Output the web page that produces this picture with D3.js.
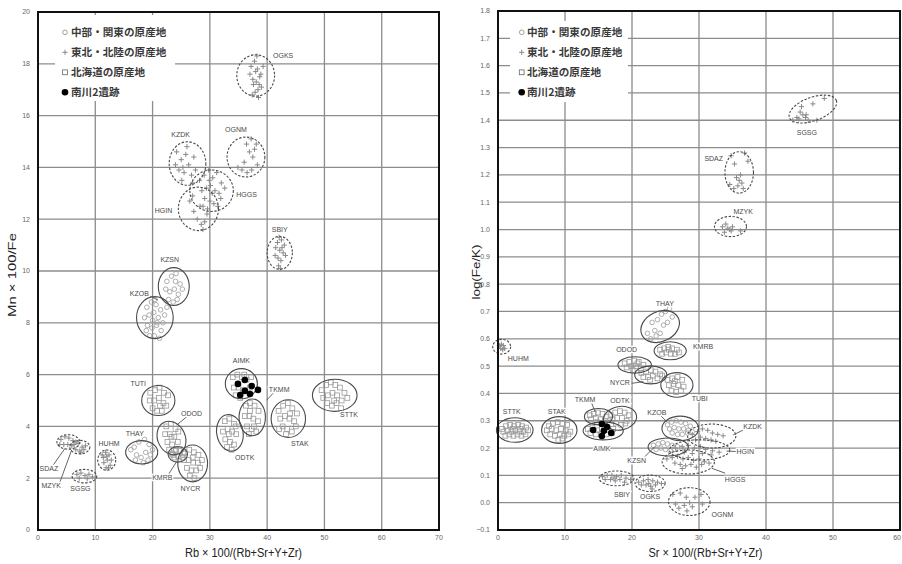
<!DOCTYPE html>
<html><head><meta charset="utf-8">
<script src="https://cdn.jsdelivr.net/npm/d3@7"></script>
<style>body{margin:0;background:#fff}svg{display:block}</style>
</head><body>
<svg id="c" width="902" height="564"></svg>
<script>
// ---------------- DATA ----------------
const legendLabels = ["中部・関東の原産地", "東北・北陸の原産地", "北海道の原産地", "南川2遺跡"];
const legendTypes = ["c", "p", "s", "d"];

const leftXTicks = [0, 10, 20, 30, 40, 50, 60, 70];
const leftYTicks = [0, 2, 4, 6, 8, 10, 12, 14, 16, 18, 20];
const rightXTicks = [0, 10, 20, 30, 40, 50, 60];
const rightYTicks = [-0.1, 0.0, 0.1, 0.2, 0.3, 0.4, 0.5, 0.6, 0.7, 0.8, 0.9, 1.0, 1.1, 1.2, 1.3, 1.4, 1.5, 1.6, 1.7, 1.8];

// ellipse: [name, cx, cy, rx, ry, rotation(deg), marker type]
const leftEllipses = [
  ["OGKS", 38.0, 17.55, 3.3, 0.80, 0, "p"],
  ["KZDK", 26.1, 14.15, 3.2, 0.84, 0, "p"],
  ["OGNM", 36.3, 14.40, 3.3, 0.77, 0, "p"],
  ["HGGS", 30.3, 13.10, 3.8, 0.80, 0, "p"],
  ["HGIN", 28.0, 12.40, 3.5, 0.84, 0, "p"],
  ["SBIY", 42.2, 10.70, 2.2, 0.64, 0, "p"],
  ["KZSN", 23.7, 9.40, 2.7, 0.73, 0, "c"],
  ["KZOB", 20.4, 8.20, 3.2, 0.81, 0, "c"],
  ["AIMK", 35.5, 5.65, 2.8, 0.58, 0, "s"],
  ["TKMM", 37.4, 4.35, 2.3, 0.71, 0, "s"],
  ["STAK", 43.7, 4.30, 3.0, 0.73, 0, "s"],
  ["STTK", 51.8, 5.20, 3.9, 0.62, 0, "s"],
  ["ODTK", 33.5, 3.75, 2.3, 0.71, -10, "s"],
  ["TUTI", 21.0, 5.00, 2.9, 0.58, 0, "s"],
  ["ODOD", 23.3, 3.55, 2.4, 0.67, -25, "s"],
  ["THAY", 18.1, 3.00, 2.8, 0.45, 0, "c"],
  ["KMRB", 24.4, 2.92, 1.7, 0.30, 0, "s"],
  ["NYCR", 27.0, 2.57, 2.6, 0.71, 0, "s"],
  ["HUHM", 12.0, 2.70, 1.57, 0.39, 0, "p"],
  ["SDAZ", 5.3, 3.40, 2.0, 0.28, 0, "p"],
  ["MZYK", 7.3, 3.20, 1.75, 0.26, 0, "p"],
  ["SGSG", 8.1, 2.08, 2.15, 0.26, 0, "p"]
];
const leftLabels = [
  ["OGKS", 42.8, 18.3], ["KZDK", 24.9, 15.25], ["OGNM", 34.55, 15.47], ["HGGS", 36.4, 12.96],
  ["HGIN", 21.9, 12.32], ["SBIY", 42.2, 11.6], ["KZSN", 23.0, 10.46], ["KZOB", 17.7, 9.14],
  ["AIMK", 35.5, 6.56], ["TKMM", 42.1, 5.43], ["STAK", 45.7, 3.32], ["STTK", 54.3, 4.44],
  ["ODTK", 36.1, 2.81], ["TUTI", 17.5, 5.66], ["ODOD", 26.8, 4.5], ["THAY", 16.9, 3.73],
  ["KMRB", 21.7, 2.02], ["NYCR", 26.6, 1.61], ["HUHM", 12.4, 3.35], ["SDAZ", 1.9, 2.38],
  ["MZYK", 2.3, 1.7], ["SGSG", 7.4, 1.6]
];
const leftLeaders = [
  [19.55, 9.03, 20.94, 8.88], [25.95, 4.37, 24.2, 4.05], [22.7, 2.12, 24.2, 2.64],
  [41.7, 5.44, 39.9, 5.01], [2.67, 2.51, 4.71, 3.15], [3.84, 1.86, 5.88, 3.09]
];
const leftPoints = {
  OGKS: [[37.2,17.9],[37.8,18.1],[38.3,17.8],[38.9,17.6],[37.5,17.4],[38.1,17.3],[38.6,17.2],[37.9,16.9],[38.4,17.0],[37.0,17.6],[39.3,17.9],[38.0,17.7],[38.7,17.5],[37.6,17.2],[38.2,18.3],[39.0,17.1],[37.4,16.8],[38.5,16.7]],
  KZDK: [[24.2,14.6],[25.0,14.3],[25.8,14.5],[24.6,13.9],[25.5,13.8],[26.3,14.1],[27.2,14.4],[26.8,13.7],[25.1,13.5],[24.0,14.1],[27.5,13.9],[26.0,14.8],[25.3,14.0],[27.0,13.4]],
  OGNM: [[36.4,14.9],[37.2,15.1],[37.8,14.7],[38.1,14.9],[36.9,14.6],[37.5,14.4],[34.9,14.0],[35.6,13.9],[36.5,13.8],[37.3,13.9],[38.3,14.1],[36.0,14.2]],
  HGGS: [[28.2,13.5],[29.0,13.7],[29.8,13.9],[30.5,13.6],[31.2,13.8],[32.0,13.4],[28.6,13.1],[29.4,13.2],[30.1,13.3],[30.9,13.1],[31.6,13.0],[32.6,13.2],[29.1,12.8],[30.0,12.7],[30.7,12.6],[31.4,12.5],[28.8,12.5],[29.6,12.4],[30.4,13.0],[31.9,12.8],[29.9,13.5]],
  HGIN: [[26.5,12.7],[27.2,12.3],[27.8,12.0],[28.5,11.8],[29.1,11.9],[27.0,12.9],[28.3,12.5],[29.5,12.2],[28.8,11.6]],
  SBIY: [[41.8,11.1],[42.5,11.2],[43.0,11.0],[41.5,10.9],[42.2,10.8],[42.8,10.7],[41.9,10.5],[42.4,10.4],[42.0,10.2],[43.2,10.6],[41.4,10.6],[42.6,10.9],[42.1,11.3],[42.3,10.1]],
  KZSN: [[22.5,9.6],[23.3,9.8],[24.1,9.9],[24.8,9.5],[23.0,9.2],[23.8,9.3],[24.5,9.1],[22.8,8.9],[23.6,8.8],[24.3,8.9],[25.2,9.3],[22.3,9.3],[24.0,9.6]],
  KZOB: [[19.0,8.6],[19.8,8.8],[20.6,8.7],[21.4,8.5],[22.1,8.3],[18.6,8.2],[19.4,8.3],[20.2,8.4],[21.0,8.2],[21.8,8.0],[19.1,7.9],[19.9,7.8],[20.7,7.9],[21.5,7.7],[20.3,7.5],[19.5,7.5],[21.2,7.4],[20.0,8.1],[20.8,8.0],[18.9,7.7],[22.5,8.6],[20.4,8.9]],
  AIMK: [[34.0,5.9],[34.8,6.0],[35.6,5.9],[36.4,5.8],[37.2,5.9],[34.2,5.5],[35.0,5.5],[35.8,5.4],[36.6,5.4],[34.5,5.2],[35.3,5.1],[37.0,5.5],[36.0,6.0]],
  TKMM: [[36.3,4.8],[37.0,4.9],[37.8,4.8],[38.5,4.6],[36.1,4.4],[36.9,4.4],[37.6,4.3],[38.4,4.2],[36.5,4.0],[37.3,3.9],[38.1,3.8],[37.0,4.6],[37.7,4.0],[36.8,3.7]],
  STAK: [[42.0,4.6],[42.8,4.8],[43.6,4.9],[44.4,4.7],[45.2,4.5],[42.3,4.3],[43.1,4.4],[43.9,4.3],[44.7,4.2],[42.7,4.0],[43.5,3.9],[44.3,3.8],[45.0,4.0],[43.3,3.7],[44.0,4.5],[42.1,3.9]],
  STTK: [[49.5,5.4],[50.3,5.6],[51.1,5.7],[51.9,5.6],[52.7,5.5],[53.5,5.3],[49.8,5.1],[50.6,5.2],[51.4,5.3],[52.2,5.2],[53.0,5.0],[54.0,5.1],[50.5,4.9],[51.3,4.8],[52.1,4.9],[52.9,4.7],[51.7,5.0]],
  ODTK: [[32.6,4.2],[33.4,4.3],[34.2,4.1],[32.3,3.8],[33.1,3.9],[33.9,3.8],[34.6,3.7],[32.7,3.5],[33.5,3.4],[34.2,3.3],[33.0,3.2],[33.8,3.1],[33.3,3.7],[34.5,4.0]],
  TUTI: [[19.6,5.3],[20.4,5.4],[21.2,5.5],[22.0,5.3],[22.7,5.2],[19.5,5.0],[20.3,5.0],[21.1,5.1],[21.9,4.9],[20.0,4.7],[20.8,4.6],[21.6,4.6],[22.4,4.8],[21.3,4.8]],
  ODOD: [[22.4,4.0],[23.2,4.1],[24.0,3.9],[22.2,3.7],[23.0,3.7],[23.8,3.6],[24.4,3.4],[22.6,3.4],[23.4,3.3],[24.1,3.1],[22.9,3.1],[23.6,2.9],[23.3,3.6],[24.5,3.8]],
  THAY: [[16.2,3.1],[16.8,3.2],[17.6,3.4],[18.6,3.5],[19.4,3.3],[17.2,2.9],[18.0,2.8],[18.8,3.0],[19.6,2.9],[17.0,2.7],[18.4,2.6],[19.2,2.7],[20.0,3.1]],
  KMRB: [[23.4,2.95],[24.0,3.05],[24.7,3.05],[25.4,2.95],[23.8,2.8],[24.5,2.85],[25.2,2.8]],
  NYCR: [[25.6,3.0],[26.4,3.1],[27.2,3.0],[28.0,2.9],[25.5,2.7],[26.3,2.7],[27.1,2.6],[27.9,2.6],[28.6,2.7],[26.0,2.4],[26.8,2.3],[27.6,2.3],[28.3,2.4],[26.5,2.1],[27.3,2.0],[27.0,2.8]],
  HUHM: [[11.2,2.9],[11.8,3.0],[12.4,2.9],[12.8,2.7],[11.5,2.6],[12.1,2.7],[12.6,2.5],[11.9,2.4],[11.4,2.8],[12.3,2.4],[12.0,2.85]],
  SDAZ: [[4.0,3.5],[4.7,3.6],[5.4,3.55],[6.1,3.45],[4.5,3.3],[5.2,3.3],[5.9,3.25],[6.6,3.4],[3.8,3.3]],
  MZYK: [[6.3,3.3],[7.0,3.35],[7.7,3.2],[8.3,3.25],[6.6,3.1],[7.3,3.05],[8.0,3.1],[7.5,3.0]],
  SGSG: [[6.8,2.15],[7.5,2.2],[8.2,2.1],[8.9,2.15],[9.5,2.05],[7.2,2.0],[8.6,1.98]]
};
const leftSite = [[34.9,5.64],[36.1,5.79],[37.3,5.56],[38.4,5.41],[36.1,5.37],[35.3,5.21],[37.0,5.25]];

const rightEllipses = [
  ["SGSG", 47.0, 1.441, 3.73, 0.043, -20, "p"],
  ["SDAZ", 36.0, 1.209, 2.13, 0.076, 0, "p"],
  ["MZYK", 34.7, 1.011, 2.39, 0.037, 0, "p"],
  ["THAY", 24.2, 0.645, 3.0, 0.055, -25, "c"],
  ["KMRB", 25.7, 0.556, 2.4, 0.033, 0, "s"],
  ["ODOD", 20.4, 0.504, 2.5, 0.030, 0, "s"],
  ["NYCR", 22.8, 0.468, 2.4, 0.033, 0, "s"],
  ["TUBI", 26.7, 0.431, 2.4, 0.045, 0, "s"],
  ["TKMM", 15.0, 0.315, 2.1, 0.030, 0, "s"],
  ["ODTK", 18.2, 0.309, 2.5, 0.043, -10, "s"],
  ["AIMK", 15.7, 0.263, 3.0, 0.033, 0, "s"],
  ["STTK", 2.5, 0.266, 2.73, 0.045, 0, "s"],
  ["STAK", 9.15, 0.266, 2.64, 0.049, 0, "s"],
  ["HUHM", 0.55, 0.571, 1.34, 0.027, 0, "p"],
  ["KZOB", 27.2, 0.272, 2.73, 0.045, 0, "c"],
  ["KZDK", 31.9, 0.244, 3.6, 0.044, 0, "p"],
  ["HGIN", 30.1, 0.193, 4.5, 0.037, 0, "p"],
  ["KZSN", 25.4, 0.204, 3.0, 0.033, 0, "c"],
  ["HGGS", 28.4, 0.149, 3.9, 0.044, 0, "p"],
  ["OGNM", 28.55, 0.004, 3.1, 0.051, 0, "p"],
  ["SBIY", 17.7, 0.089, 2.6, 0.027, 0, "p"],
  ["OGKS", 22.7, 0.071, 2.24, 0.030, 0, "p"]
];
const rightLabels = [
  ["SGSG", 46.1, 1.355], ["SDAZ", 32.2, 1.26], ["MZYK", 36.6, 1.066], ["THAY", 24.9, 0.728],
  ["KMRB", 30.6, 0.571], ["ODOD", 19.2, 0.562], ["NYCR", 18.2, 0.44], ["TUBI", 30.1, 0.382],
  ["TKMM", 13.0, 0.379], ["ODTK", 18.2, 0.374], ["AIMK", 15.5, 0.199], ["STTK", 2.04, 0.333],
  ["STAK", 8.76, 0.333], ["HUHM", 3.03, 0.529], ["KZOB", 23.7, 0.33], ["KZDK", 38.0, 0.278],
  ["HGIN", 36.9, 0.187], ["KZSN", 20.7, 0.154], ["HGGS", 35.4, 0.086], ["OGNM", 33.5, -0.045],
  ["SBIY", 18.5, 0.031], ["OGKS", 22.7, 0.022]
];
const rightLeaders = [
  [19.96, 0.437, 21.7, 0.443], [13.99, 0.364, 14.48, 0.333], [24.18, 0.321, 25.18, 0.297],
  [36.6, 0.266, 35.1, 0.248], [35.9, 0.187, 34.1, 0.189], [33.9, 0.108, 31.9, 0.126],
  [21.9, 0.168, 23.4, 0.205]
];
const rightPoints = {
  SGSG: [[44.0,1.40],[44.6,1.41],[45.1,1.43],[45.5,1.42],[45.9,1.41],[46.3,1.40],[45.3,1.45],[47.0,1.46],[47.6,1.40],[48.7,1.48],[46.0,1.42],[44.9,1.405]],
  SDAZ: [[34.8,1.27],[35.3,1.24],[37.3,1.25],[36.8,1.28],[35.6,1.19],[36.0,1.18],[36.4,1.17],[35.8,1.16],[36.2,1.20],[34.6,1.165],[35.2,1.15],[36.6,1.15]],
  MZYK: [[33.5,1.01],[34.0,1.02],[34.3,1.005],[34.6,1.0],[35.0,1.01],[34.8,0.995],[36.2,0.995],[33.8,0.99]],
  THAY: [[22.3,0.62],[22.8,0.60],[23.4,0.63],[23.0,0.66],[23.8,0.67],[24.4,0.69],[25.0,0.70],[25.6,0.71],[26.0,0.68],[24.7,0.65],[25.3,0.66],[23.6,0.61],[24.2,0.62]],
  KMRB: [[24.2,0.56],[24.8,0.565],[25.4,0.57],[26.0,0.565],[26.7,0.56],[24.5,0.545],[25.1,0.55],[25.8,0.545],[26.4,0.545],[25.5,0.56],[27.0,0.55]],
  ODOD: [[18.9,0.51],[19.6,0.515],[20.3,0.52],[21.0,0.515],[21.7,0.505],[19.2,0.495],[19.9,0.50],[20.6,0.50],[21.3,0.49],[20.1,0.485],[20.8,0.51]],
  NYCR: [[21.4,0.475],[22.1,0.48],[22.8,0.485],[23.5,0.48],[24.2,0.47],[21.7,0.46],[22.4,0.46],[23.1,0.465],[23.8,0.455],[22.7,0.45],[24.5,0.465]],
  TUBI: [[25.3,0.45],[26.0,0.455],[26.8,0.46],[27.5,0.45],[25.5,0.43],[26.2,0.435],[26.9,0.43],[27.7,0.425],[25.9,0.41],[26.6,0.405],[27.3,0.41],[26.4,0.445]],
  TKMM: [[13.7,0.32],[14.3,0.325],[14.9,0.33],[15.6,0.325],[16.2,0.315],[13.9,0.305],[14.6,0.31],[15.3,0.305],[16.0,0.30],[14.8,0.295]],
  ODTK: [[16.8,0.32],[17.5,0.33],[18.2,0.335],[18.9,0.33],[19.5,0.32],[17.1,0.305],[17.8,0.31],[18.5,0.31],[19.2,0.30],[17.6,0.29],[18.4,0.285],[19.0,0.29]],
  AIMK: [[13.4,0.27],[14.1,0.275],[14.8,0.265],[15.5,0.27],[16.4,0.265],[17.2,0.27],[13.8,0.255],[14.6,0.25],[15.4,0.25],[16.2,0.25],[17.0,0.255],[15.9,0.28]],
  STTK: [[0.6,0.27],[1.2,0.28],[1.8,0.285],[2.4,0.28],[3.0,0.285],[3.6,0.28],[4.2,0.275],[0.8,0.26],[1.4,0.265],[2.0,0.26],[2.6,0.265],[3.2,0.26],[3.8,0.26],[4.5,0.265],[1.1,0.245],[1.7,0.25],[2.3,0.245],[2.9,0.25],[3.5,0.245],[4.1,0.25],[2.2,0.27],[3.3,0.27]],
  STAK: [[7.6,0.28],[8.2,0.29],[8.9,0.295],[9.6,0.29],[10.3,0.285],[7.3,0.265],[8.0,0.27],[8.7,0.265],[9.4,0.27],[10.1,0.265],[10.8,0.26],[7.8,0.25],[8.5,0.245],[9.2,0.25],[9.9,0.245],[10.5,0.25],[9.0,0.23],[9.6,0.235]],
  HUHM: [[0.2,0.575],[0.5,0.58],[0.8,0.575],[1.0,0.565],[0.4,0.565],[0.7,0.56]],
  KZOB: [[25.3,0.285],[25.9,0.295],[26.6,0.30],[27.3,0.295],[28.0,0.29],[28.7,0.28],[25.6,0.27],[26.3,0.275],[27.0,0.27],[27.7,0.27],[28.4,0.265],[26.0,0.255],[26.8,0.25],[27.5,0.25],[28.3,0.255],[29.0,0.26]],
  KZDK: [[29.0,0.25],[29.8,0.26],[30.5,0.27],[31.3,0.265],[32.0,0.255],[32.8,0.25],[33.6,0.245],[30.2,0.24],[31.0,0.235],[31.8,0.23],[32.5,0.225],[29.5,0.23]],
  HGIN: [[26.5,0.20],[27.5,0.205],[28.4,0.21],[29.3,0.20],[30.2,0.205],[31.0,0.195],[32.0,0.19],[33.0,0.185],[27.8,0.185],[29.0,0.18],[30.5,0.18],[31.8,0.175]],
  KZSN: [[23.2,0.21],[23.9,0.215],[24.6,0.22],[25.3,0.215],[26.0,0.21],[26.8,0.205],[23.6,0.195],[24.3,0.20],[25.0,0.195],[25.7,0.19],[26.4,0.195],[27.4,0.20]],
  HGGS: [[25.2,0.16],[26.0,0.165],[26.8,0.17],[27.6,0.16],[28.4,0.165],[29.2,0.155],[30.0,0.16],[30.8,0.15],[31.5,0.145],[26.4,0.145],[27.2,0.14],[28.0,0.135],[28.8,0.14],[29.6,0.13],[27.5,0.125],[30.4,0.14]],
  OGNM: [[26.1,0.03],[27.2,0.035],[28.1,0.02],[29.4,0.02],[30.3,0.03],[28.6,0.0],[27.8,-0.01],[27.0,-0.02],[29.0,-0.015],[26.5,-0.005],[30.5,-0.005],[28.2,-0.03]],
  SBIY: [[15.6,0.095],[16.3,0.10],[17.0,0.10],[17.7,0.095],[18.4,0.10],[19.1,0.09],[19.8,0.085],[16.0,0.085],[16.8,0.085],[17.5,0.08],[18.2,0.085],[18.9,0.075],[17.3,0.09]],
  OGKS: [[21.0,0.075],[21.7,0.08],[22.4,0.085],[23.1,0.08],[23.8,0.075],[24.4,0.07],[21.4,0.065],[22.1,0.065],[22.8,0.06],[23.5,0.065],[22.5,0.07],[23.0,0.05]]
};
const rightSite = [[14.2,0.266],[15.5,0.288],[15.8,0.263],[16.3,0.277],[16.9,0.255],[15.5,0.244]];

// ---------------- DRAW ----------------
const svg = d3.select("#c");
const FONT = "'Liberation Sans', Arial, sans-serif";
const CJK = "'Noto Sans CJK JP', 'Noto Sans', sans-serif";

function marker(g, type, px, py, col) {
  if (type === "c") {
    g.append("circle").attr("cx", px).attr("cy", py).attr("r", 2.3)
      .attr("fill", "none").attr("stroke", col || "#9a9a9a").attr("stroke-width", 0.8);
  } else if (type === "s") {
    g.append("rect").attr("x", px - 2.4).attr("y", py - 2.4).attr("width", 4.8).attr("height", 4.8)
      .attr("fill", "none").attr("stroke", col || "#9a9a9a").attr("stroke-width", 0.8);
  } else if (type === "p") {
    g.append("path").attr("d", `M${px-2.6},${py}H${px+2.6}M${px},${py-2.6}V${py+2.6}`)
      .attr("stroke", col || "#8a8a8a").attr("stroke-width", 1).attr("fill", "none");
  } else {
    g.append("circle").attr("cx", px).attr("cy", py).attr("r", 3.3).attr("fill", "#000");
  }
}

function panel(o) {
  const x = d3.scaleLinear().domain(o.xd).range(o.xr);
  const y = d3.scaleLinear().domain(o.yd).range(o.yr);
  const g = svg.append("g");
  const [x0, x1] = o.xr, [y0, y1] = o.yr;

  // grid
  g.append("g").selectAll("line").data(o.xt.slice(1, -1)).join("line")
    .attr("x1", d => x(d)).attr("x2", d => x(d)).attr("y1", y1).attr("y2", y0)
    .attr("stroke", "#8c8c8c").attr("stroke-width", 1.3);
  g.append("g").selectAll("line").data(o.yt.slice(1, -1)).join("line")
    .attr("x1", x0).attr("x2", x1).attr("y1", d => y(d)).attr("y2", d => y(d))
    .attr("stroke", "#8c8c8c").attr("stroke-width", 1.3);

  // legend box
  g.append("rect").attr("x", o.lg.box[0]).attr("y", o.lg.box[1])
    .attr("width", o.lg.box[2]).attr("height", o.lg.box[3]).attr("fill", "#fff");
  legendLabels.forEach((t, i) => {
    const ly = o.lg.y0 + i * 20;
    marker(g, legendTypes[i], o.lg.sx, ly, legendTypes[i] === "s" ? "#666" : "#888");
    g.append("text").attr("x", o.lg.tx).attr("y", ly).attr("dy", "0.35em")
      .attr("font-family", CJK).attr("font-size", 10.6).attr("font-weight", "bold")
      .attr("fill", "#3a3a3a").text(t);
  });

  // points
  const gp = g.append("g");
  o.ell.forEach(e => {
    (o.pts[e[0]] || []).forEach(p => marker(gp, e[6], x(p[0]), y(p[1])));
  });
  // ellipses
  g.append("g").selectAll("ellipse").data(o.ell).join("ellipse")
    .attr("cx", 0).attr("cy", 0)
    .attr("rx", d => Math.abs(x(d[1] + d[3]) - x(d[1])))
    .attr("ry", d => Math.abs(y(d[2] + d[4]) - y(d[2])))
    .attr("transform", d => `translate(${x(d[1])},${y(d[2])}) rotate(${d[5]})`)
    .attr("fill", "none").attr("stroke", "#4a4a4a").attr("stroke-width", 1.1)
    .attr("stroke-dasharray", d => d[6] === "p" ? "2.4,1.6" : null);
  // site points
  g.append("g").selectAll("circle").data(o.site).join("circle")
    .attr("cx", d => x(d[0])).attr("cy", d => y(d[1])).attr("r", 3.3).attr("fill", "#000");

  // leaders
  g.append("g").selectAll("line").data(o.lead).join("line")
    .attr("x1", d => x(d[0])).attr("y1", d => y(d[1])).attr("x2", d => x(d[2])).attr("y2", d => y(d[3]))
    .attr("stroke", "#555").attr("stroke-width", 0.9);
  // labels
  g.append("g").selectAll("text").data(o.lab).join("text")
    .attr("x", d => x(d[1])).attr("y", d => y(d[2])).attr("dy", "0.35em")
    .attr("text-anchor", "middle").attr("font-family", FONT).attr("font-size", 7)
    .attr("fill", "#4a4a4a").attr("stroke", "#fff").attr("stroke-width", 2.5)
    .attr("paint-order", "stroke").text(d => d[0]);

  // frame
  g.append("rect").attr("x", x0).attr("y", y1).attr("width", x1 - x0).attr("height", y0 - y1)
    .attr("fill", "none").attr("stroke", "#111").attr("stroke-width", 2);

  // tick labels
  const lastX = o.xt[o.xt.length - 1];
  g.append("g").selectAll("text").data(o.xt).join("text")
    .attr("x", d => (d === lastX && x(d) > 890) ? 901 : x(d)).attr("y", y0 + 10)
    .attr("text-anchor", d => (d === lastX && x(d) > 890) ? "end" : "middle")
    .attr("font-family", FONT).attr("font-size", 7).attr("fill", "#666").text(d => d);
  g.append("g").selectAll("text").data(o.yt).join("text")
    .attr("x", x0 - 8).attr("y", d => y(d)).attr("dy", "0.35em").attr("text-anchor", "end")
    .attr("font-family", FONT).attr("font-size", 7).attr("fill", "#666").text(o.yf);

  // titles
  g.append("text").attr("x", o.xtit[1]).attr("y", o.xtit[2]).attr("text-anchor", "middle")
    .attr("dy", "0.35em").attr("font-family", FONT).attr("font-size", 12).attr("fill", "#222")
    .attr("textLength", o.xtit[3]).attr("lengthAdjust", "spacingAndGlyphs").text(o.xtit[0]);
  g.append("text").attr("transform", `translate(${o.ytit[1]},${o.ytit[2]}) rotate(-90)`)
    .attr("text-anchor", "middle").attr("dy", "0.35em").attr("font-family", FONT)
    .attr("font-size", 11).attr("fill", "#222")
    .attr("textLength", o.ytit[3]).attr("lengthAdjust", "spacingAndGlyphs").text(o.ytit[0]);
}

panel({
  xd: [0, 70], xr: [38, 439], yd: [0, 20], yr: [530, 12],
  xt: leftXTicks, yt: leftYTicks, yf: d => d,
  ell: leftEllipses, pts: leftPoints, site: leftSite, lab: leftLabels, lead: leftLeaders,
  lg: { box: [55, 15, 120, 86], y0: 32.3, sx: 65, tx: 71 },
  xtit: ["Rb × 100/(Rb+Sr+Y+Zr)", 243.5, 553, 117],
  ytit: ["Mn × 100/Fe", 12, 275, 84]
});
panel({
  xd: [0, 60], xr: [498, 900], yd: [-0.1, 1.8], yr: [530, 11],
  xt: rightXTicks, yt: rightYTicks, yf: d3.format(".1f"),
  ell: rightEllipses, pts: rightPoints, site: rightSite, lab: rightLabels, lead: rightLeaders,
  lg: { box: [510, 21, 118, 81], y0: 32.3, sx: 521.7, tx: 527 },
  xtit: ["Sr × 100/(Rb+Sr+Y+Zr)", 705.5, 553, 114],
  ytit: ["log(Fe/K)", 476, 272, 55]
});
</script>
</body></html>
